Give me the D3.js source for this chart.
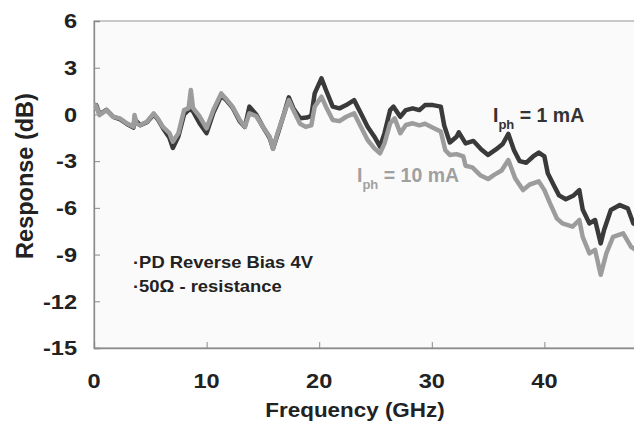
<!DOCTYPE html>
<html><head><meta charset="utf-8">
<script src="https://cdn.jsdelivr.net/npm/d3@7"></script>
<style>body{margin:0;background:#fff}svg{display:block}text{font-family:"Liberation Sans",Arial,sans-serif;font-weight:bold}</style>
</head><body>
<svg id="c" width="634" height="422"></svg>
<script>
const xTicks = [0, 10, 20, 30, 40];
const yTicks = [6, 3, 0, -3, -6, -9, -12, -15];

const freq1mA = [0.0,0.2,0.5,1.1,1.7,2.3,2.9,3.5,3.6,4.1,4.7,5.3,5.7,6.1,6.7,7.0,7.5,8.0,8.5,8.8,9.4,10.0,10.6,11.3,11.7,12.3,12.95,13.4,13.8,14.4,15.0,15.6,15.9,16.3,16.9,17.3,17.7,18.3,18.9,19.3,19.6,20.2,20.6,21.2,21.8,22.4,23.1,23.7,24.3,24.9,25.4,25.8,26.3,26.6,27.2,27.7,28.3,28.9,29.4,30.1,30.8,31.1,31.6,32.2,32.4,33.0,33.7,34.4,35.0,35.7,36.3,36.8,37.3,37.8,38.4,39.0,39.5,40.0,40.3,40.8,41.3,41.9,42.6,43.1,43.4,44.0,44.5,45.0,45.3,45.9,46.7,47.4,47.9,48.5];
const resp1mA = [0.3,0.6,0.0,0.3,-0.15,-0.3,-0.6,-0.85,-0.3,-0.7,-0.5,0.0,-0.35,-0.85,-1.5,-2.15,-1.4,0.0,0.35,0.2,-0.6,-1.2,0.1,1.2,0.95,0.45,-0.45,-0.8,0.5,0.0,-0.8,-1.5,-2.2,-1.3,0.1,1.1,0.4,-0.25,-0.2,-0.1,1.35,2.32,1.57,0.5,0.39,0.6,0.92,0.07,-0.79,-1.43,-2.07,-1.2,0.28,0.5,-0.15,0.28,0.39,0.28,0.6,0.6,0.5,-0.7,-1.8,-1.43,-1.15,-1.86,-1.7,-2.25,-2.6,-2.25,-1.9,-1.25,-2.3,-3.0,-3.1,-2.7,-2.45,-2.7,-3.78,-4.5,-5.2,-5.45,-5.2,-4.86,-6.1,-7.0,-6.78,-8.28,-7.42,-6.14,-5.82,-6.03,-7.0,-7.2];

const freq10mA = [0.0,0.15,0.5,1.1,1.7,2.3,2.9,3.5,3.6,3.8,4.1,4.7,5.3,5.7,6.1,6.7,7.0,7.5,8.0,8.4,8.6,8.8,9.4,10.0,10.6,11.3,11.7,12.3,12.95,13.4,13.8,14.4,15.0,15.6,15.9,16.3,16.9,17.3,17.7,18.3,18.8,19.3,19.6,20.2,20.6,21.2,21.8,22.4,23.1,23.7,24.3,24.9,25.4,25.8,26.3,26.7,27.2,27.7,28.3,28.9,29.4,30.1,30.8,31.2,31.6,32.2,32.8,33.0,33.6,34.3,35.0,35.5,36.2,36.8,37.4,38.1,38.7,39.5,40.0,40.5,41.1,41.6,42.5,43.1,43.4,44.0,44.5,45.0,45.5,46.1,47.0,47.7,48.5];
const resp10mA = [0.28,0.6,-0.04,0.28,-0.15,-0.25,-0.57,-0.79,-0.04,-0.6,-0.68,-0.47,0.07,-0.3,-0.79,-1.2,-1.75,-1.2,0.28,0.4,1.57,0.4,-0.15,-0.89,0.28,1.35,1.03,0.5,-0.36,-0.79,0.07,-0.1,-0.79,-1.43,-2.2,-1.2,0.07,0.92,0.28,-0.6,-0.8,-0.7,0.5,1.14,0.5,-0.36,-0.43,-0.15,0.07,-0.79,-1.64,-2.18,-2.5,-1.86,-0.57,-0.25,-1.2,-0.68,-0.57,-0.7,-0.6,-0.85,-1.1,-2.3,-2.6,-2.55,-2.7,-3.3,-3.4,-3.9,-4.15,-3.9,-3.6,-2.93,-4.1,-4.86,-4.5,-4.3,-4.86,-5.71,-6.67,-7.0,-7.21,-6.78,-7.86,-8.92,-8.7,-10.3,-8.92,-7.86,-7.64,-8.5,-8.9];

const legendLines = ["\u00B7PD Reverse Bias 4V", "\u00B750\u03A9 - resistance"];

const svg = d3.select("#c");
const L = 94, R = 657, T = 21, B = 348;
const x = d3.scaleLinear().domain([0, 50]).range([L, R]);
const y = d3.scaleLinear().domain([-15, 6]).range([B, T]);

svg.append("rect").attr("x", L).attr("y", T).attr("width", R - L).attr("height", B - T)
  .attr("fill", "#fafafa").attr("stroke", "#a6a6a6").attr("stroke-width", 1.2);

// axes
const xAxis = svg.append("g").attr("transform", `translate(0,${B})`)
  .call(d3.axisBottom(x).tickValues(xTicks).tickSize(-6).tickFormat(""));
xAxis.select(".domain").attr("stroke", "#8a8a8a").attr("stroke-width", 1.3);
xAxis.selectAll(".tick line").attr("stroke", "#8a8a8a");
const yAxis = svg.append("g").attr("transform", `translate(${L},0)`)
  .call(d3.axisLeft(y).tickValues(yTicks).tickSize(-6).tickFormat(""));
yAxis.select(".domain").attr("stroke", "#8a8a8a").attr("stroke-width", 1.3);
yAxis.selectAll(".tick line").attr("stroke", "#8a8a8a");

// tick labels
xTicks.forEach(v => {
  svg.append("text").attr("transform", `translate(${x(v)},388) scale(1.15,1)`)
    .attr("text-anchor", "middle").attr("font-size", 20.5).attr("fill", "#222").text(v);
});
yTicks.forEach(v => {
  svg.append("text").attr("transform", `translate(77,${y(v) + 7.3}) scale(1.15,1)`)
    .attr("text-anchor", "end").attr("font-size", 20.5).attr("fill", "#222").text(v);
});

// axis titles
svg.append("text").attr("transform", "translate(355,416.5) scale(1.15,1)")
  .attr("text-anchor", "middle").attr("font-size", 19.5).attr("fill", "#222").text("Frequency (GHz)");
svg.append("text").attr("transform", "translate(33,176) rotate(-90)")
  .attr("text-anchor", "middle").attr("font-size", 23.5).attr("fill", "#222").text("Response (dB)");

// lines
svg.append("clipPath").attr("id", "pc").append("rect")
  .attr("x", L).attr("y", T).attr("width", R - L).attr("height", B - T);
const line = d3.line().x(d => x(d[0])).y(d => y(d[1]));
svg.append("path").attr("clip-path", "url(#pc)")
  .datum(d3.zip(freq1mA, resp1mA)).attr("d", line)
  .attr("fill", "none").attr("stroke", "#3a3a3a").attr("stroke-width", 4.5).attr("stroke-linejoin", "round");
svg.append("path").attr("clip-path", "url(#pc)")
  .datum(d3.zip(freq10mA, resp10mA)).attr("d", line)
  .attr("fill", "none").attr("stroke", "#9c9c9c").attr("stroke-width", 4.5).attr("stroke-linejoin", "round");

// series labels
function iph(xp, yp, val, color) {
  const t = svg.append("text").attr("x", xp).attr("y", yp).attr("font-size", 19.5).attr("fill", color);
  t.append("tspan").text("I");
  t.append("tspan").attr("font-size", 13).attr("dy", 7).text("ph");
  t.append("tspan").attr("dy", -7).text(` = ${val} mA`);
}
iph(493, 122, 1, "#333");
iph(357, 182, 10, "#a0a0a0");

// legend note
legendLines.forEach((s, i) => {
  svg.append("text").attr("transform", `translate(133,${268 + i * 24}) scale(1.15,1)`)
    .attr("font-size", 16).attr("fill", "#222").text(s);
});
</script>
</body></html>
